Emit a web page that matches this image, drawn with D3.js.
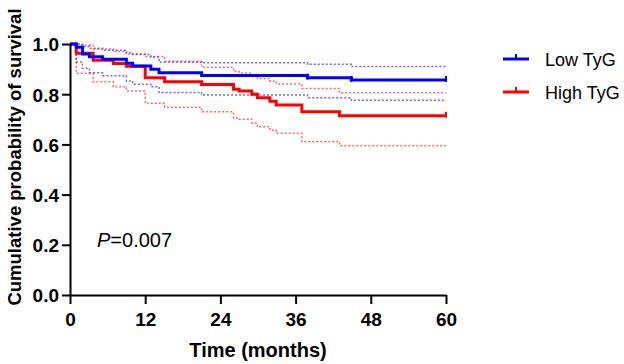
<!DOCTYPE html>
<html><head><meta charset="utf-8">
<script src="https://cdn.jsdelivr.net/npm/d3@7"></script>
<style>body{margin:0;background:#fff}svg{display:block}</style>
</head><body>
<svg id="c" width="624" height="364"></svg>
<script>
// Low TyG group
const lowTimes = [0, 1.0, 2.0, 3.1, 5.2, 9.0, 10.0, 12.9, 14.2, 21.0, 37.9, 44.9, 60];
const lowSurv  = [1.0, 0.987, 0.960, 0.949, 0.939, 0.923, 0.912, 0.899, 0.885, 0.875, 0.866, 0.857, 0.857];
const lowUpper = [1.0, 1.0, 0.99, 0.983, 0.975, 0.965, 0.958, 0.948, 0.927, 0.925, 0.919, 0.91, 0.91];
const lowLower = [1.0, 0.928, 0.903, 0.885, 0.874, 0.853, 0.84, 0.83, 0.807, 0.797, 0.786, 0.776, 0.776];
const lowCensor = [37.9, 44.9, 60];
// High TyG group
const highTimes = [0, 1.0, 3.7, 6.9, 9.0, 12.0, 15.1, 21.0, 26.1, 27.0, 29.0, 29.9, 31.9, 32.9, 37.0, 43.0, 60];
const highSurv  = [1.0, 0.963, 0.935, 0.922, 0.911, 0.866, 0.85, 0.839, 0.82, 0.813, 0.80, 0.786, 0.772, 0.757, 0.73, 0.714, 0.714];
const highUpper = [1.0, 0.995, 0.98, 0.97, 0.96, 0.95, 0.931, 0.907, 0.89, 0.884, 0.875, 0.863, 0.852, 0.841, 0.823, 0.806, 0.806];
const highLower = [1.0, 0.883, 0.85, 0.83, 0.813, 0.764, 0.748, 0.73, 0.704, 0.70, 0.684, 0.67, 0.657, 0.644, 0.611, 0.595, 0.595];
const highCensor = [60];

const xTicks = [0, 12, 24, 36, 48, 60];
const yTicks = [0, 0.2, 0.4, 0.6, 0.8, 1.0];
const groups = ["Low TyG", "High TyG"];
const colors = ["#0000ff", "#ff0000"];
const pText = "=0.007";

const FONT = "Liberation Sans, Arial, Helvetica, sans-serif";
const svg = d3.select("#c");
const x = d3.scaleLinear().domain([0, 60]).range([70, 446]);
const y = d3.scaleLinear().domain([0, 1]).range([295, 44]);

const line = d3.line().x(d => x(d[0])).y(d => y(d[1])).curve(d3.curveStepAfter);
const zip = (t, v) => t.map((tt, i) => [tt, v[i]]);

const series = [
  {t: lowTimes, s: lowSurv, u: lowUpper, l: lowLower, c: lowCensor, col: colors[0]},
  {t: highTimes, s: highSurv, u: highUpper, l: highLower, c: highCensor, col: colors[1]}
];

// CI dotted lines
series.forEach(g => {
  [g.u, g.l].forEach(v => {
    svg.append("path").attr("d", line(zip(g.t, v)))
      .attr("fill", "none").attr("stroke", g.col).attr("stroke-opacity", 0.6)
      .attr("stroke-width", 1.5).attr("stroke-dasharray", "2,2");
  });
});

// survival lines (high drawn first so blue on top)
[series[1], series[0]].forEach(g => {
  svg.append("path").attr("d", line(zip(g.t, g.s)))
    .attr("fill", "none").attr("stroke", g.col).attr("stroke-width", 3);
  g.c.forEach(ct => {
    const i = d3.bisectRight(g.t, ct) - 1;
    const v = g.s[Math.max(0, i)];
    svg.append("line").attr("x1", x(ct)).attr("x2", x(ct))
      .attr("y1", y(v) - 4).attr("y2", y(v) + 2)
      .attr("stroke", g.col).attr("stroke-width", 2);
  });
});

// axes
const xAxis = svg.append("g").attr("transform", "translate(0,295)")
  .call(d3.axisBottom(x).tickValues(xTicks).tickSize(9).tickSizeOuter(0).tickFormat(d3.format("d")));
const yAxis = svg.append("g").attr("transform", "translate(70,0)")
  .call(d3.axisLeft(y).tickValues(yTicks).tickSize(8).tickSizeOuter(0).tickFormat(d3.format(".1f")));
[xAxis, yAxis].forEach(a => {
  a.select(".domain").attr("stroke", "#000").attr("stroke-width", 2);
  a.selectAll(".tick line").attr("stroke", "#000").attr("stroke-width", 2);
  a.selectAll(".tick text").attr("fill", "#000")
    .style("font-family", FONT)
    .style("font-weight", "bold").style("font-size", "19px");
});
xAxis.selectAll(".tick text").attr("dy", "0").attr("y", 31);
yAxis.selectAll(".tick text").attr("x", -11).attr("dy", "0.36em");

// axis titles
svg.append("text").attr("x", 258).attr("y", 357).attr("text-anchor", "middle")
  .style("font-family", FONT).style("font-weight", "bold")
  .style("font-size", "20px").text("Time (months)");
svg.append("text").attr("transform", "translate(21,157) rotate(-90)").attr("text-anchor", "middle")
  .style("font-family", FONT).style("font-weight", "bold")
  .style("font-size", "18.5px").text("Cumulative probability of survival");

// P value
const pt = svg.append("text").attr("x", 97).attr("y", 247)
  .style("font-family", FONT).style("font-size", "20px");
pt.append("tspan").style("font-style", "italic").text("P");
pt.append("tspan").text(pText);

// legend
groups.forEach((gname, i) => {
  const ly = 59 + i * 33;
  svg.append("line").attr("x1", 503).attr("x2", 529).attr("y1", ly).attr("y2", ly)
    .attr("stroke", colors[i]).attr("stroke-width", 3);
  svg.append("line").attr("x1", 516).attr("x2", 516).attr("y1", ly - 5).attr("y2", ly)
    .attr("stroke", colors[i]).attr("stroke-width", 2);
  svg.append("text").attr("x", 545).attr("y", ly + 7)
    .style("font-family", FONT).style("font-size", "18px")
    .text(gname);
});
</script>
</body></html>
